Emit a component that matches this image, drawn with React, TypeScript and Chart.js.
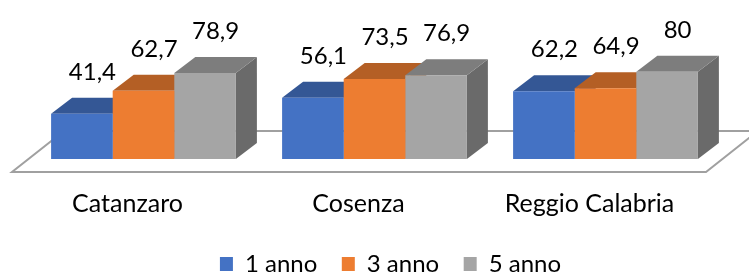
import React, { useEffect, useRef } from 'react';
import { Chart, registerables } from 'chart.js';

Chart.register(...registerables);

const categories = ['Catanzaro', 'Cosenza', 'Reggio Calabria'];
const seriesNames = ['1 anno', '3 anno', '5 anno'];
const anno1 = [41.4, 56.1, 62.2];
const anno3 = [62.7, 73.5, 64.9];
const anno5 = [78.9, 76.9, 80];
const yMin = 0;
const yMax = 100;

const FONT = 'Lato, "Noto Sans", sans-serif';
const LABEL_SIZE = 24;
const CAT_SIZE = 25;
const LEGEND_SIZE = 24;
const TEXT_COLOR = '#000000';
const frontColors = ['#4472C4', '#ED7D31', '#A5A5A5'];

const DX = 21;
const DY = 16;

function shade(hex: string, f: number): string {
  const n = parseInt(hex.slice(1), 16);
  const r = Math.round(((n >> 16) & 255) * f);
  const g = Math.round(((n >> 8) & 255) * f);
  const b = Math.round((n & 255) * f);
  return `rgb(${r},${g},${b})`;
}

function fmt(v: number): string {
  return String(v).replace('.', ',');
}

const bar3dPlugin = {
  id: 'bar3d',
  afterLayout(chart: any) {
    const lg = chart.legend;
    if (lg) {
      lg.left += 16;
      lg.right += 16;
    }
  },
  beforeDatasetsDraw(chart: any) {
    const { ctx, chartArea, scales } = chart;
    const base = scales.y.getPixelForValue(0);
    // floor
    const fl = chartArea.left - 16;
    const fr = chartArea.right - 15;
    const fy = base + 13;
    const by = base - 28;
    const sx = 52;
    ctx.save();
    ctx.beginPath();
    ctx.moveTo(fl, fy);
    ctx.lineTo(fr, fy);
    ctx.lineTo(fr + sx, by);
    ctx.lineTo(fl + sx, by);
    ctx.closePath();
    ctx.fillStyle = '#ffffff';
    ctx.fill();
    ctx.strokeStyle = '#a0a0a0';
    ctx.lineWidth = 2;
    ctx.stroke();
    // top and side faces
    const n = chart.data.labels.length;
    for (let c = 0; c < n; c++) {
      chart.data.datasets.forEach((ds: any, di: number) => {
        const meta = chart.getDatasetMeta(di);
        const el = meta.data[c];
        if (!el) return;
        const { x, y, base: b, width } = el.getProps(['x', 'y', 'base', 'width'], true);
        const l = x - width / 2;
        const r = x + width / 2;
        const col = frontColors[di];
        // side
        ctx.beginPath();
        ctx.moveTo(r, y);
        ctx.lineTo(r + DX, y - DY);
        ctx.lineTo(r + DX, b - DY);
        ctx.lineTo(r, b);
        ctx.closePath();
        ctx.fillStyle = shade(col, 0.64);
        ctx.fill();
        // top
        ctx.beginPath();
        ctx.moveTo(l, y);
        ctx.lineTo(r, y);
        ctx.lineTo(r + DX, y - DY);
        ctx.lineTo(l + DX, y - DY);
        ctx.closePath();
        ctx.fillStyle = shade(col, 0.76);
        ctx.fill();
      });
    }
    ctx.restore();
  },
  afterDatasetsDraw(chart: any) {
    const { ctx } = chart;
    ctx.save();
    ctx.font = `${LABEL_SIZE}px ${FONT}`;
    ctx.fillStyle = TEXT_COLOR;
    ctx.textAlign = 'center';
    ctx.textBaseline = 'alphabetic';
    chart.data.datasets.forEach((ds: any, di: number) => {
      const meta = chart.getDatasetMeta(di);
      meta.data.forEach((el: any, i: number) => {
        const { x, y } = el.getProps(['x', 'y'], true);
        ctx.fillText(fmt(ds.data[i]), x + DX / 2, y - DY - 18);
      });
    });
    ctx.restore();
  },
};

export default function App() {
  const ref = useRef<HTMLCanvasElement>(null);
  useEffect(() => {
    if (!ref.current) return;
    const seriesValues = [anno1, anno3, anno5];
    const chart = new Chart(ref.current, {
      type: 'bar',
      data: {
        labels: categories,
        datasets: seriesNames.map((name, i) => ({
          label: name,
          data: seriesValues[i],
          backgroundColor: frontColors[i],
          borderWidth: 0,
          categoryPercentage: 0.8,
          barPercentage: 1.0,
        })),
      },
      options: {
        responsive: false,
        animation: false,
        devicePixelRatio: 1,
        layout: { padding: { left: 28, right: 28, top: 50, bottom: 0 } },
        scales: {
          x: {
            grid: { display: false, drawTicks: false },
            border: { display: false },
            ticks: {
              padding: 30,
              labelOffset: -16,
              color: TEXT_COLOR,
              font: { family: FONT, size: CAT_SIZE },
              maxRotation: 0,
              autoSkip: false,
            },
            afterFit: (scale: any) => {
              scale.height = 68.5;
            },
          },
          y: {
            display: false,
            min: yMin,
            max: yMax,
          },
        },
        plugins: {
          legend: {
            position: 'bottom',
            labels: {
              boxWidth: 13,
              boxHeight: 14,
              padding: 24.5,
              color: TEXT_COLOR,
              font: { family: FONT, size: LEGEND_SIZE },
            },
          },
          tooltip: { enabled: false },
        },
      },
      plugins: [bar3dPlugin],
    });
    return () => chart.destroy();
  }, []);
  return (
    <div style={{ position: 'fixed', left: 0, top: 0, width: 749, height: 286, background: '#fff' }}>
      <canvas ref={ref} width={749} height={286} style={{ display: 'block', width: 749, height: 286 }} />
    </div>
  );
}
